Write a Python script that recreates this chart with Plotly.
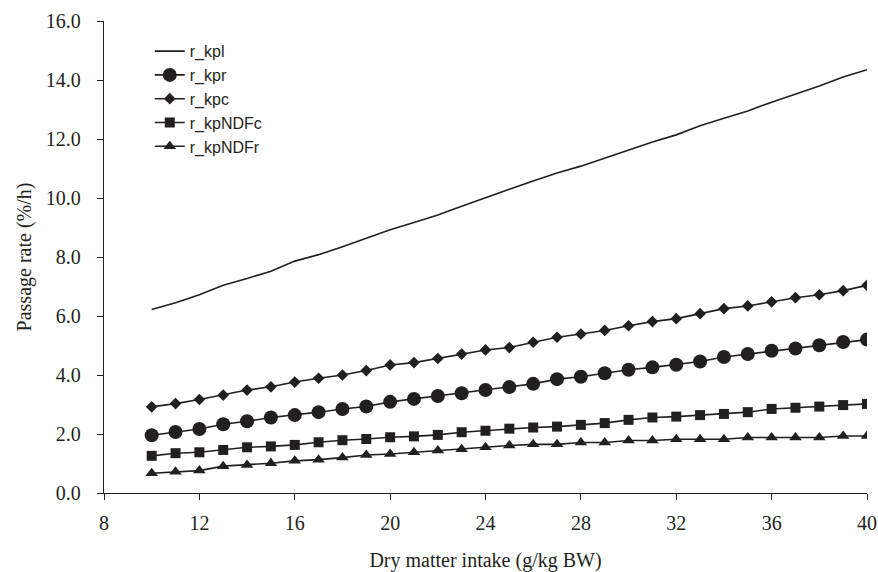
import plotly.graph_objects as go

x_intake = list(range(10, 41))

r_kpl = [6.22, 6.45, 6.72, 7.04, 7.27, 7.52, 7.86, 8.08, 8.35, 8.63, 8.92, 9.17, 9.42, 9.72,
         10.02, 10.30, 10.58, 10.85, 11.08, 11.35, 11.63, 11.90, 12.14, 12.45, 12.70, 12.95,
         13.25, 13.52, 13.80, 14.10, 14.35]
r_kpr = [1.96, 2.07, 2.17, 2.33, 2.43, 2.56, 2.64, 2.74, 2.85, 2.93, 3.09, 3.19, 3.29, 3.38,
         3.49, 3.59, 3.70, 3.86, 3.94, 4.06, 4.18, 4.26, 4.35, 4.46, 4.61, 4.71, 4.82, 4.90,
         5.01, 5.12, 5.20]
r_kpc = [2.92, 3.03, 3.17, 3.32, 3.49, 3.60, 3.76, 3.89, 4.00, 4.15, 4.34, 4.42, 4.56, 4.71,
         4.85, 4.93, 5.11, 5.28, 5.39, 5.51, 5.67, 5.81, 5.91, 6.08, 6.25, 6.34, 6.48, 6.62,
         6.72, 6.86, 7.04]
r_kpNDFc = [1.26, 1.35, 1.38, 1.46, 1.55, 1.58, 1.63, 1.72, 1.79, 1.83, 1.89, 1.92, 1.97, 2.06,
            2.11, 2.18, 2.22, 2.25, 2.31, 2.37, 2.48, 2.56, 2.59, 2.64, 2.68, 2.74, 2.85, 2.89,
            2.93, 2.98, 3.02]
r_kpNDFr = [0.67, 0.72, 0.76, 0.91, 0.95, 1.01, 1.09, 1.13, 1.20, 1.29, 1.32, 1.38, 1.44, 1.48,
            1.55, 1.61, 1.65, 1.65, 1.71, 1.71, 1.78, 1.78, 1.82, 1.82, 1.82, 1.88, 1.88, 1.88,
            1.88, 1.93, 1.93]

x_ticks = [8, 12, 16, 20, 24, 28, 32, 36, 40]
y_ticks = [0, 2, 4, 6, 8, 10, 12, 14, 16]

INK = "#231f20"

series = [
    ("r_kpl", r_kpl, "lines", None, 0),
    ("r_kpr", r_kpr, "lines+markers", "circle", 14),
    ("r_kpc", r_kpc, "lines+markers", "diamond", 9),
    ("r_kpNDFc", r_kpNDFc, "lines+markers", "square", 10),
    ("r_kpNDFr", r_kpNDFr, "lines+markers", "triangle-up", 11),
]

fig = go.Figure()
for name, vals, mode, sym, size in series:
    kw = dict(x=x_intake, y=vals, name=name, mode=mode,
              line=dict(color=INK, width=1.6))
    if sym:
        kw["marker"] = dict(symbol=sym, size=size, color=INK, line=dict(width=0))
    fig.add_trace(go.Scatter(**kw))

axis_font = dict(family="Liberation Serif, Times New Roman, serif", size=20, color=INK)

fig.update_layout(
    width=878, height=572,
    margin=dict(l=104, r=11, t=21, b=79),
    paper_bgcolor="white", plot_bgcolor="white",
    showlegend=True,
    legend=dict(x=0.06, y=0.972, xanchor="left", yanchor="top",
                bgcolor="rgba(0,0,0,0)", tracegroupgap=0,
                font=dict(family="Liberation Sans, Arial, sans-serif", size=16, color=INK)),
    xaxis=dict(range=[8, 40], tickvals=x_ticks, ticktext=[str(v) for v in x_ticks],
               showgrid=False, zeroline=False, showline=True, linecolor=INK, linewidth=1.3,
               ticks="outside", ticklen=6, tickcolor=INK, tickwidth=1.3,
               ticklabelstandoff=6, automargin=False,
               tickfont=axis_font,
               title=dict(text="Dry matter intake (g/kg BW)", font=axis_font, standoff=20)),
    yaxis=dict(range=[0, 16], tickvals=y_ticks, tickformat=".1f",
               showgrid=False, zeroline=False, showline=True, linecolor=INK, linewidth=1.3,
               ticks="outside", ticklen=6, tickcolor=INK, tickwidth=1.3,
               ticklabelstandoff=12, automargin=False,
               tickfont=axis_font,
               title=dict(text="Passage rate (%/h)", font=axis_font, standoff=8)),
)

fig.write_html("out.html")
